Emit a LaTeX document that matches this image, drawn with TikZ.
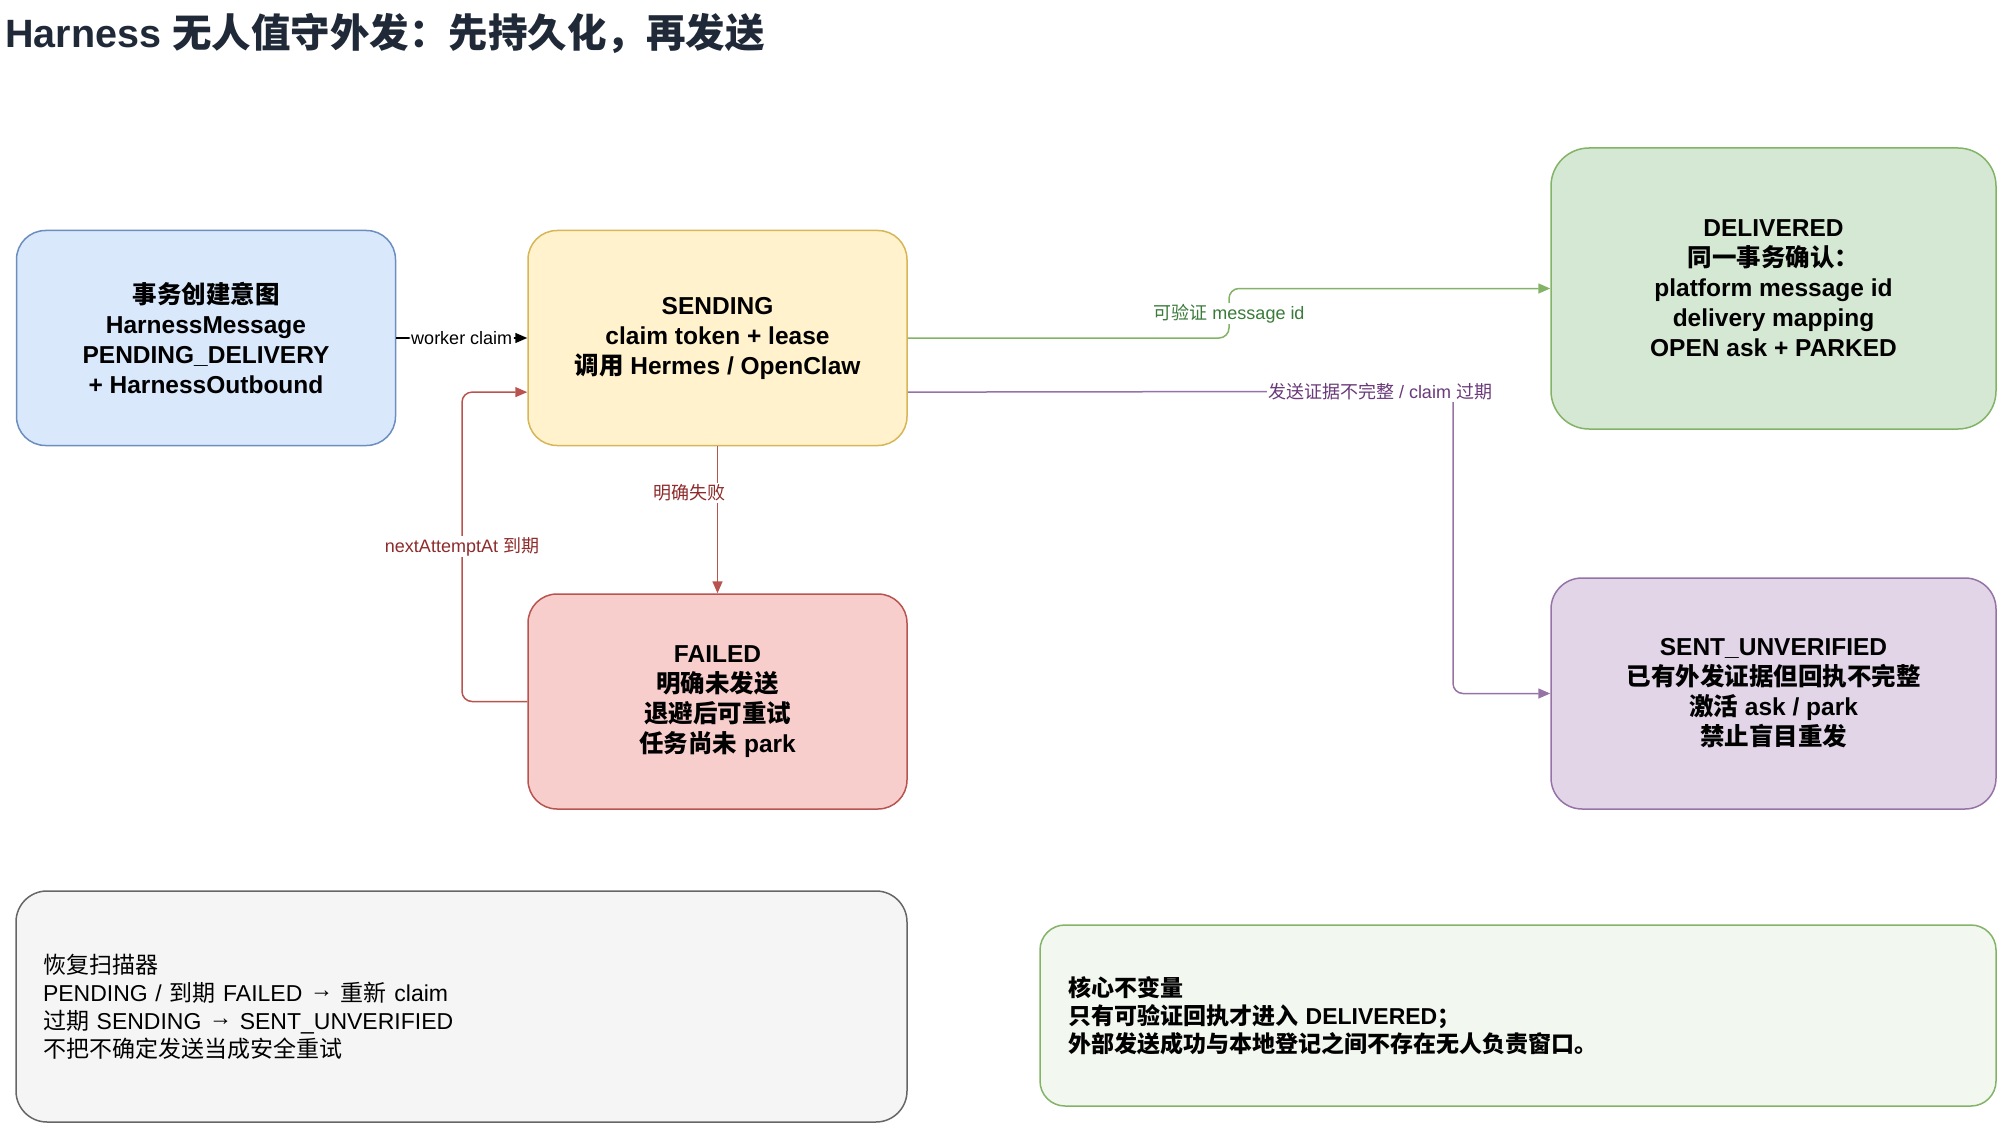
\documentclass[tikz,border=0pt]{standalone}
\usepackage{fontspec}
\setmainfont{Liberation Sans}
\newfontfamily\cjk{Noto Sans CJK SC}
\newcommand\zh[1]{{\cjk #1}}
\newcommand\rarr{\raisebox{0.18em}{→}}
\usetikzlibrary{arrows.meta,calc}
\definecolor{bfill}{HTML}{DAE8FC}\definecolor{bline}{HTML}{6C8EBF}
\definecolor{yfill}{HTML}{FFF2CC}\definecolor{yline}{HTML}{D6B656}
\definecolor{gfill}{HTML}{D5E8D4}\definecolor{gline}{HTML}{82B366}
\definecolor{rfill}{HTML}{F8CECC}\definecolor{rline}{HTML}{B85450}
\definecolor{pfill}{HTML}{E1D5E7}\definecolor{pline}{HTML}{9673A6}
\definecolor{sfill}{HTML}{F5F5F5}\definecolor{sline}{HTML}{666666}
\definecolor{lgfill}{HTML}{F2F8F0}
\definecolor{titlec}{HTML}{1F2937}
\definecolor{glbl}{HTML}{3A7A3A}
\definecolor{plbl}{HTML}{6A3A7A}
\definecolor{rlbl}{HTML}{8E2B2B}
\begin{document}
\begin{tikzpicture}[x=1pt,y=-1pt,
  box/.style={rectangle, draw, line width=1.5pt, align=center, inner sep=0pt,
    font=\fontsize{24.5}{30}\selectfont\bfseries},
  conn/.style={line width=1.5pt, rounded corners=10pt, -{Triangle[length=12pt,width=10pt]}},
  lbl/.style={fill=white, inner sep=1.5pt, font=\fontsize{18}{21}\selectfont}]
\useasboundingbox (0,0) rectangle (2000,1126);

\node[anchor=west, inner sep=0pt, text=titlec, font=\fontsize{39.5}{44}\selectfont\bfseries] (title) at (5,33)
  {Harness \zh{无人值守外发：先持久化，再发送}};

\node[box, fill=bfill, draw=bline, minimum width=379pt, minimum height=215pt, rounded corners=29pt] (intent) at (206,338)
  {\zh{事务创建意图}\\HarnessMessage\\PENDING\_DELIVERY\\+ HarnessOutbound};
\node[box, fill=yfill, draw=yline, minimum width=379pt, minimum height=215pt, rounded corners=29pt] (sending) at (717.5,338)
  {SENDING\\claim token + lease\\\zh{调用} Hermes / OpenClaw};
\node[box, fill=rfill, draw=rline, minimum width=379pt, minimum height=215pt, rounded corners=29pt] (failed) at (717.5,701.5)
  {FAILED\\\zh{明确未发送}\\\zh{退避后可重试}\\\zh{任务尚未} park};
\node[box, fill=gfill, draw=gline, minimum width=445pt, minimum height=281pt, rounded corners=38pt] (delivered) at (1773.5,288.5)
  {DELIVERED\\\zh{同一事务确认：}\\platform message id\\delivery mapping\\OPEN ask + PARKED};
\node[box, fill=pfill, draw=pline, minimum width=445pt, minimum height=231pt, rounded corners=31pt] (unverified) at (1773.5,693.5)
  {SENT\_UNVERIFIED\\\zh{已有外发证据但回执不完整}\\\zh{激活} ask / park\\\zh{禁止盲目重发}};

\node[box, fill=sfill, draw=sline, minimum width=891pt, minimum height=231pt, rounded corners=31pt,
  align=left, text width=837pt, font=\fontsize{23}{28}\selectfont] (scanner) at (461.5,1006.5)
  {\zh{恢复扫描器}\\PENDING / \zh{到期} FAILED \rarr{} \zh{重新} claim\\\zh{过期} SENDING \rarr{} SENT\_UNVERIFIED\\\zh{不把不确定发送当成安全重试}};
\node[box, fill=lgfill, draw=gline, minimum width=956pt, minimum height=181pt, rounded corners=25pt,
  align=left, text width=900pt, font=\fontsize{23}{28}\selectfont\bfseries] (invariant) at (1518,1015.5)
  {\zh{核心不变量}\\\zh{只有可验证回执才进入} DELIVERED\zh{；}\\\zh{外部发送成功与本地登记之间不存在无人负责窗口。}};

% worker claim
\draw[conn, black] (intent.east) -- node[lbl, text=black]{worker claim} (sending.west);

% verified -> delivered
\coordinate (gm) at (1229,313.5);
\draw[conn, gline] (sending.east) -| (gm) |- (delivered.west);
\node[lbl, text=glbl] (glabel) at (gm) {\zh{可验证} message id};

% incomplete -> unverified
\coordinate (ye2) at ($(sending.south east)!0.25!(sending.north east)$);
\coordinate (pturn) at (1453,391.25);
\draw[conn, pline] (ye2) -- (pturn) |- (unverified.west);
\node[lbl, text=plbl] (plabel) at (1380,392) {\zh{发送证据不完整} / claim \zh{过期}};

% explicit failure
\draw[conn, rline] (sending.south) -- (failed.north);
\node[lbl, text=rlbl] (rlabel) at (689,493) {\zh{明确失败}};

% retry
\coordinate (yw2) at ($(sending.south west)!0.25!(sending.north west)$);
\coordinate (rb) at (462,546.5);
\draw[conn, rline] (failed.west) -| (rb) |- (yw2);
\node[lbl, text=rlbl] (retrylabel) at (rb) {nextAttemptAt \zh{到期}};
\end{tikzpicture}
\end{document}
